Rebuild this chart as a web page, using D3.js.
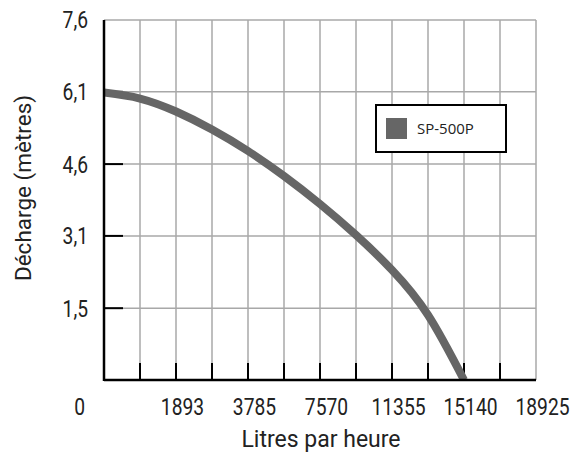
<!DOCTYPE html>
<html><head><meta charset="utf-8">
<script src="https://cdn.jsdelivr.net/npm/d3@7"></script>
<style>body{margin:0;background:#fff}</style>
</head><body>
<svg id="c" width="571" height="454"></svg>
<script>
// ---- data ----
const seriesName = "SP-500P";
const flowLph = [0, 1514, 3028, 4542, 6056, 7570, 9084, 10598, 12112, 13626, 15140];
const headM   = [6.085, 5.958, 5.683, 5.302, 4.847, 4.318, 3.725, 3.069, 2.328, 1.376, 0];
const xTickLabels = ["0", "1893", "3785", "7570", "11355", "15140", "18925"];
const yTickValues = [1.52, 3.05, 4.57, 6.10, 7.62];
const yTickLabels = ["1,5", "3,1", "4,6", "6,1", "7,6"];
const xTitle = "Litres par heure";
const yTitle = "Décharge (mètres)";

// ---- layout ----
const L = 104, R = 536, T = 20, B = 380;
const xMax = 18168, gridStep = 1514;
const svg = d3.select("#c");
const x = d3.scaleLinear().domain([0, xMax]).range([L, R]);
const y = d3.scaleLinear().domain([0, 7.62]).range([B, T]);
const gridX = d3.range(gridStep, xMax + 1, gridStep);

const tickFont = "Roboto, Arial, sans-serif";
const titleFont = "Roboto, Arial, sans-serif";
const textCol = "#222";
const squeeze = 0.82;

// grid
svg.append("g").selectAll("line").data(gridX).join("line")
  .attr("x1", d => x(d)).attr("x2", d => x(d)).attr("y1", T).attr("y2", B)
  .attr("stroke", "#a8a8a8").attr("stroke-width", 1.5);
svg.append("g").selectAll("line").data(yTickValues).join("line")
  .attr("x1", L).attr("x2", R).attr("y1", d => y(d)).attr("y2", d => y(d))
  .attr("stroke", "#a8a8a8").attr("stroke-width", 1.5);

// axis ticks
svg.append("g").selectAll("line").data(gridX.slice(0, -1)).join("line")
  .attr("x1", d => x(d)).attr("x2", d => x(d)).attr("y1", B).attr("y2", B - 17)
  .attr("stroke", "#000").attr("stroke-width", 2);
svg.append("g").selectAll("line").data(yTickValues.slice(0, -1)).join("line")
  .attr("x1", L).attr("x2", L + 19).attr("y1", d => y(d)).attr("y2", d => y(d))
  .attr("stroke", "#000").attr("stroke-width", 2);

// curve
svg.append("clipPath").attr("id", "clip").append("rect")
  .attr("x", L).attr("y", T).attr("width", R - L).attr("height", B - T);
const pts = flowLph.map((f, i) => [f, headM[i]]);
svg.append("path").datum(pts)
  .attr("clip-path", "url(#clip)")
  .attr("d", d3.line().x(d => x(d[0])).y(d => y(d[1])).curve(d3.curveNatural))
  .attr("fill", "none").attr("stroke", "#666").attr("stroke-width", 8);

// axes lines
svg.append("line").attr("x1", L).attr("x2", L).attr("y1", T).attr("y2", B + 1)
  .attr("stroke", "#000").attr("stroke-width", 2.5);
svg.append("line").attr("x1", L).attr("x2", R).attr("y1", B).attr("y2", B)
  .attr("stroke", "#000").attr("stroke-width", 2.5);

// y tick labels
svg.append("g").selectAll("text").data(yTickValues).join("text")
  .attr("transform", d => `translate(88,${y(d)}) scale(${squeeze},1)`).attr("dy", "0.36em")
  .attr("text-anchor", "end").attr("font-family", tickFont).attr("font-size", 23.5)
  .attr("fill", textCol).text((d, i) => yTickLabels[i]);

// x tick labels
svg.append("text").attr("transform", `translate(85,415) scale(${squeeze},1)`).attr("text-anchor", "end")
  .attr("font-family", tickFont).attr("font-size", 23.5).attr("fill", textCol).text(xTickLabels[0]);
const xl = d3.scalePoint().domain(xTickLabels.slice(1)).range([x(2.18 * gridStep), x(12.18 * gridStep)]);
svg.append("g").selectAll("text").data(xTickLabels.slice(1)).join("text")
  .attr("transform", d => `translate(${xl(d)},415) scale(${squeeze},1)`).attr("text-anchor", "middle")
  .attr("font-family", tickFont).attr("font-size", 23.5).attr("fill", textCol).text(d => d);

// titles
svg.append("text").attr("x", 321).attr("y", 447).attr("text-anchor", "middle")
  .attr("font-family", titleFont).attr("font-size", 23).attr("fill", textCol).text(xTitle);
svg.append("text").attr("transform", "translate(31,188) rotate(-90)").attr("text-anchor", "middle")
  .attr("font-family", titleFont).attr("font-size", 22.5).attr("fill", textCol).text(yTitle);

// legend
const lg = svg.append("g");
lg.append("rect").attr("x", 376).attr("y", 105).attr("width", 130).attr("height", 47)
  .attr("fill", "#fff").attr("stroke", "#000").attr("stroke-width", 2);
lg.append("rect").attr("x", 386).attr("y", 118).attr("width", 21).attr("height", 21).attr("fill", "#666");
lg.append("text").attr("x", 417).attr("y", 129).attr("dy", "0.36em")
  .attr("font-family", "'Open Sans', 'Noto Sans', sans-serif").attr("font-size", 15).attr("fill", textCol).text(seriesName);
</script>
</body></html>
